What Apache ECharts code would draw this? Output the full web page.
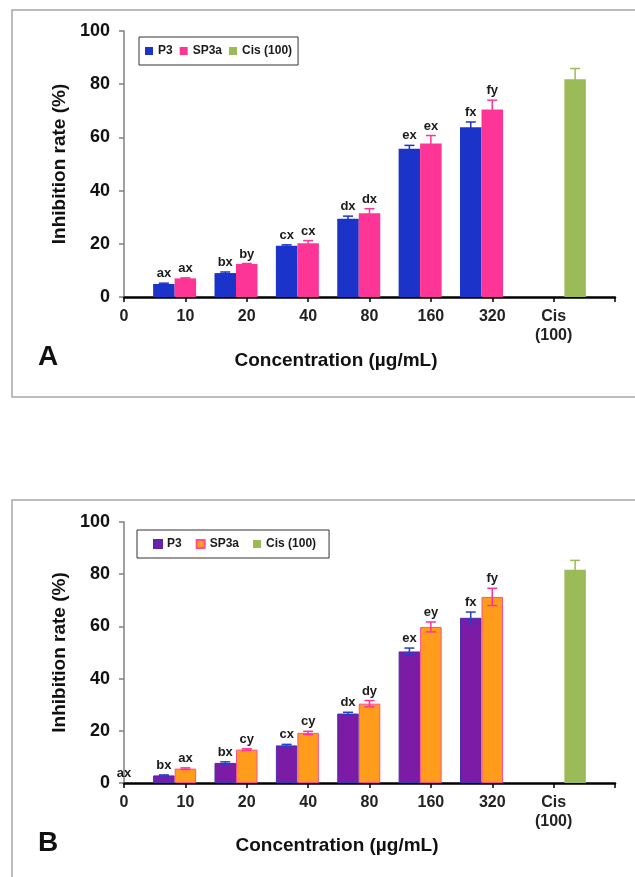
<!DOCTYPE html>
<html><head><meta charset="utf-8">
<script src="https://cdn.jsdelivr.net/npm/echarts@6/dist/echarts.min.js"></script>
<style>
html,body{margin:0;padding:0;background:#fff;width:635px;height:877px;overflow:hidden}
#a{position:absolute;left:0;top:0;width:635px;height:440px}
#b{position:absolute;left:0;top:440px;width:635px;height:437px}
</style>
</head><body><div id="a"></div><div id="b"></div>
<script>
// ---------- data ----------
const categories = ['0', '10', '20', '40', '80', '160', '320', 'Cis\n(100)', ''];
const yTicks = [0, 20, 40, 60, 80, 100];
const seriesNames = ['P3', 'SP3a', 'Cis (100)'];

// Panel A
const p3A = [null, 4.9, 9.0, 19.3, 29.4, 55.7, 63.8, null, null];
const p3AErr = [null, 0.3, 0.4, 0.3, 1.0, 1.3, 2.0, null, null];
const p3ALabels = ['', 'ax', 'bx', 'cx', 'dx', 'ex', 'fx', '', ''];
const sp3aA = [null, 7.0, 12.4, 20.2, 31.5, 57.7, 70.5, null, null];
const sp3aAErr = [null, 0.2, 0.2, 1.0, 1.7, 3.0, 3.5, null, null];
const sp3aALabels = ['', 'ax', 'by', 'cx', 'dx', 'ex', 'fy', '', ''];
const cisA = [null, null, null, null, null, null, null, 81.9, null];
const cisAErr = [null, null, null, null, null, null, null, 4.0, null];

// Panel B
const p3B = [null, 2.9, 7.7, 14.4, 26.6, 50.4, 63.3, null, null];
const p3BErr = [null, 0.2, 0.4, 0.4, 0.5, 1.3, 2.2, null, null];
const p3BLabels = ['', 'bx', 'bx', 'cx', 'dx', 'ex', 'fx', '', ''];
const sp3aB = [null, 5.5, 12.8, 19.2, 30.4, 59.8, 71.3, null, null];
const sp3aBErr = [null, 0.3, 0.3, 0.6, 1.2, 1.9, 3.3, null, null];
const sp3aBLabels = ['', 'ax', 'cy', 'cy', 'dy', 'ey', 'fy', '', ''];
const cisB = [null, null, null, null, null, null, null, 81.7, null];
const cisBErr = [null, null, null, null, null, null, null, 3.6, null];
// label at concentration 0 in panel B
const zeroValueB = [0];
const zeroLabelB = ['ax'];

// ---------- helpers ----------
const FF = '"Liberation Sans", Arial, sans-serif';
const BAR_W = 21.5;

function errData(vals, errs) {
  const out = [];
  vals.forEach((v, i) => { if (v !== null) out.push([i, v, errs[i] || 0]); });
  return out;
}
function errLabels(vals, labels) {
  const out = [];
  vals.forEach((v, i) => { if (v !== null) out.push(labels[i]); });
  return out;
}
function errSeries(vals, errs, labels, offset, color) {
  const lab = errLabels(vals, labels);
  return {
    type: 'custom',
    data: errData(vals, errs),
    encode: { x: 0, y: 1 },
    z: 5,
    silent: true,
    renderItem: function (params, api) {
      const cat = api.value(0), v = api.value(1), e = api.value(2);
      const p = api.coord([cat, v]);
      const x = p[0] + offset * BAR_W;
      const top = api.coord([cat, v + e])[1];
      const bot = api.coord([cat, Math.max(0, v - e)])[1];
      const children = [];
      if (e > 0) {
        const st = { stroke: color, lineWidth: 1.5 };
        children.push({ type: 'line', shape: { x1: x, y1: top, x2: x, y2: bot }, style: st });
        children.push({ type: 'line', shape: { x1: x - 5, y1: top, x2: x + 5, y2: top }, style: st });
        children.push({ type: 'line', shape: { x1: x - 5, y1: bot, x2: x + 5, y2: bot }, style: st });
      }
      const t = lab[params.dataIndex];
      if (t) {
        children.push({
          type: 'text', x: x, y: top - 3,
          style: { text: t, align: 'center', verticalAlign: 'bottom',
                   font: 'bold 13px ' + FF, fill: '#1a1a1a' }
        });
      }
      return { type: 'group', children: children };
    }
  };
}

function baseOption(cfg) {
  return {
    animation: false,
    backgroundColor: '#fff',
    textStyle: { fontFamily: FF },
    grid: { left: 124, right: 20, top: cfg.gridTop, height: cfg.gridH },
    legend: Object.assign({
      data: seriesNames,
      orient: 'horizontal',
      itemWidth: 8, itemHeight: 8,
      icon: 'rect',
      borderColor: '#333', borderWidth: 1,
      selectedMode: false,
      textStyle: { fontSize: 12, fontWeight: 'bold', color: '#1a1a1a', fontFamily: FF }
    }, cfg.legend),
    xAxis: {
      type: 'category', data: categories, boundaryGap: false,
      axisLine: { lineStyle: { color: '#000', width: 2.5 } },
      axisTick: { show: true, interval: 0, length: 5, lineStyle: { color: '#000', width: 1.5 } },
      axisLabel: { interval: 0, fontSize: 16, fontWeight: 'bold', color: '#222', margin: 10,
                   lineHeight: 19, fontFamily: FF },
      splitLine: { show: false }
    },
    yAxis: {
      type: 'value', min: yTicks[0], max: yTicks[yTicks.length - 1], interval: yTicks[1] - yTicks[0],
      axisLine: { show: true, lineStyle: { color: '#808080', width: 1.5 } },
      axisTick: { show: true, length: 5, lineStyle: { color: '#808080', width: 1.5 } },
      splitLine: { show: false },
      axisLabel: { fontSize: 18, fontWeight: 'bold', color: '#111', margin: 14, fontFamily: FF },
      name: 'Inhibition rate (%)', nameLocation: 'middle', nameGap: 54,
      nameTextStyle: { fontSize: 19, fontWeight: 'bold', color: '#111', fontFamily: FF }
    },
    graphic: [
      { type: 'rect', silent: true, z: -10, shape: cfg.frame,
        style: { fill: 'transparent', stroke: '#a6a6a6', lineWidth: 1.5 } },
      { type: 'text', x: 38, y: cfg.letterY,
        style: { text: cfg.letter, font: 'bold 28px ' + FF, fill: '#111', verticalAlign: 'middle' } },
      { type: 'text', x: cfg.titleX, y: cfg.titleY,
        style: { text: 'Concentration (µg/mL)', font: 'bold 19px ' + FF, fill: '#111',
                 align: 'center', verticalAlign: 'middle' } }
    ],
    series: []
  };
}

// ---------- Panel A ----------
const colA = { p3: '#1c33c9', sp: '#fd3597', cis: '#9bbb59' };
const optA = baseOption({
  gridTop: 31, gridH: 266,
  legend: { left: 139, top: 37, itemGap: 7, padding: [8, 6] },
  frame: { x: 12, y: 10, width: 640, height: 387 },
  letter: 'A', letterY: 357, titleX: 336, titleY: 361
});
optA.series = [
  { name: 'P3', type: 'bar', data: p3A, barWidth: BAR_W, barGap: '0%', itemStyle: { color: colA.p3 } },
  { name: 'SP3a', type: 'bar', data: sp3aA, barWidth: BAR_W, barGap: '0%', itemStyle: { color: colA.sp } },
  { name: 'Cis (100)', type: 'bar', data: cisA, barWidth: BAR_W, barGap: '0%', itemStyle: { color: colA.cis } },
  errSeries(p3A, p3AErr, p3ALabels, -1, colA.p3),
  errSeries(sp3aA, sp3aAErr, sp3aALabels, 0, colA.sp),
  errSeries(cisA, cisAErr, categories.map(() => ''), 1, colA.cis)
];
echarts.init(document.getElementById('a'), null, { renderer: 'canvas' }).setOption(optA);

// ---------- Panel B ----------
const colB = { p3: '#7b1ba6', p3b: '#4a2cb5', p3err: '#2440c8', sp: '#ff9c1c', spb: '#ff4f8f', sperr: '#ff3399', cis: '#9bbb59' };
const optB = baseOption({
  gridTop: 82, gridH: 261,
  legend: { left: 137, top: 90, itemGap: 14, padding: [8, 13, 8, 16] },
  frame: { x: 12, y: 60, width: 640, height: 600 },
  letter: 'B', letterY: 403, titleX: 337, titleY: 406
});
optB.series = [
  { name: 'P3', type: 'bar', data: p3B, barWidth: BAR_W, barGap: '0%',
    itemStyle: { color: colB.p3, borderColor: colB.p3b, borderWidth: 1 } },
  { name: 'SP3a', type: 'bar', data: sp3aB, barWidth: BAR_W, barGap: '0%',
    itemStyle: { color: colB.sp, borderColor: colB.spb, borderWidth: 1 } },
  { name: 'Cis (100)', type: 'bar', data: cisB, barWidth: BAR_W, barGap: '0%', itemStyle: { color: colB.cis } },
  errSeries(p3B, p3BErr, p3BLabels, -1, colB.p3err),
  errSeries(sp3aB, sp3aBErr, sp3aBLabels, 0, colB.sperr),
  errSeries(cisB, cisBErr, categories.map(() => ''), 1, colB.cis),
  errSeries(zeroValueB, [0], zeroLabelB, 0, colB.p3err)
];
echarts.init(document.getElementById('b'), null, { renderer: 'canvas' }).setOption(optB);
</script>
</body></html>
